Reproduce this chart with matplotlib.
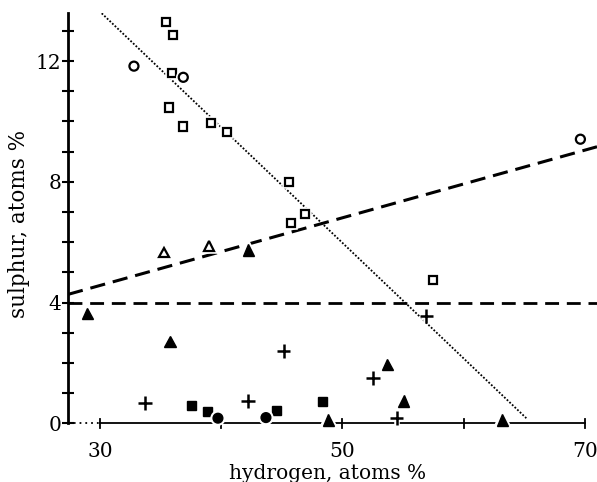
import matplotlib
matplotlib.use("Agg")
import matplotlib.pyplot as plt
import matplotlib.patheffects as pe
import numpy as np

# values
sq_open_x = [35.44, 36.04, 35.94, 35.66, 36.82, 39.13, 40.45, 45.58, 45.72, 46.9, 57.48]
sq_open_y = [13.30, 12.86, 11.61, 10.46, 9.83, 9.95, 9.65, 8.0, 6.62, 6.92, 4.75]

circ_open_x = [32.8, 36.87, 69.63]
circ_open_y = [11.83, 11.46, 9.41]

tri_open_x = [35.28, 38.99]
tri_open_y = [5.66, 5.87]

tri_fill_x = [42.23, 28.95, 35.77, 53.69, 55.06, 48.82, 63.2]
tri_fill_y = [5.74, 3.64, 2.70, 1.95, 0.74, 0.11, 0.11]

plus_x = [33.73, 42.18, 45.14, 52.5, 54.46, 56.93]
plus_y = [0.68, 0.75, 2.39, 1.49, 0.19, 3.56]

sq_fill_x = [37.56, 38.88, 44.59, 48.33]
sq_fill_y = [0.58, 0.38, 0.42, 0.72]

circ_fill_x = [39.73, 43.69]
circ_fill_y = [0.17, 0.19]

dotted_x = [30.14, 65.17]
dotted_y = [13.58, 0.17]
dash_x = [27.36, 71.0]
dash_y = [4.27, 9.16]
flat_x = [27.36, 71.0]
flat_y = [4.0, 4.0]

xmin, xmax = 27.36, 71.0
ymin, ytop = -0.4, 13.58

plt.rcParams["font.family"] = ["DejaVu Serif"]

fig = plt.figure(figsize=(5.97, 4.82), dpi=100)
ax = fig.add_axes([68 / 597, 46.6 / 482, 529 / 597, 422.1 / 482])

halo = [pe.Stroke(linewidth=4, foreground="white"), pe.Normal()]

# fitted lines
ax.plot(dotted_x, dotted_y, color="black", lw=1.3, linestyle=(0, (1, 1.0)))
ax.plot(dash_x, dash_y, color="black", lw=2.2, dashes=(5, 2.6))
ax.plot(flat_x, flat_y, color="black", lw=2.0, dashes=(5, 2.8))

# x axis drawn by hand: dotted stub then solid line
ax.plot([xmin, 30], [0, 0], color="black", lw=1.3, linestyle=(0, (1, 2.2)), clip_on=False)
ax.plot([30, 70], [0, 0], color="black", lw=1.3, clip_on=False)
for t in [30, 40, 50, 60, 70]:
    ax.plot([t, t], [-0.15, 0.15], color="black", lw=1.3, clip_on=False)

mk = dict(linestyle="none", color="black", clip_on=False, path_effects=halo)
ax.plot(sq_open_x, sq_open_y, marker="s", ms=5.8, mfc="white", mew=1.6, **mk)
ax.plot(circ_open_x, circ_open_y, marker="o", ms=6.5, mfc="white", mew=1.6, **mk)
ax.plot(tri_open_x, tri_open_y, marker="^", ms=7, mfc="white", mew=1.6, **mk)
ax.plot(tri_fill_x, tri_fill_y, marker="^", ms=8, mfc="black", mew=1, **mk)
ax.plot(plus_x, plus_y, marker="+", ms=10, mew=1.8, **mk)
ax.plot(sq_fill_x, sq_fill_y, marker="s", ms=6.5, mfc="black", mew=1, **mk)
ax.plot(circ_fill_x, circ_fill_y, marker="o", ms=7, mfc="black", mew=1, **mk)

ax.set_xlim(xmin, xmax)
ax.set_ylim(ymin, ytop)

for s in ["top", "right", "bottom"]:
    ax.spines[s].set_visible(False)
ax.spines["left"].set_bounds(0, ytop)
ax.spines["left"].set_linewidth(2)

ax.set_yticks([0, 4, 8, 12])
ax.set_yticklabels(["0", "4", "8", "12"])
ax.set_yticks(np.arange(0, 14, 1), minor=True)
ax.tick_params(axis="y", which="both", direction="inout", length=8, width=1.5, pad=1, labelsize=14.5)

ax.set_xticks([30, 50, 70])
ax.set_xticklabels(["30", "50", "70"])
ax.tick_params(axis="x", length=0, pad=5, labelsize=14.5)

ax.set_xlabel("hydrogen, atoms %", fontsize=14.5)
ax.set_ylabel("sulphur, atoms %", fontsize=15.5, labelpad=4)
ax.xaxis.set_label_coords(0.49, -0.068)

fig.savefig("out.png", dpi=100)
